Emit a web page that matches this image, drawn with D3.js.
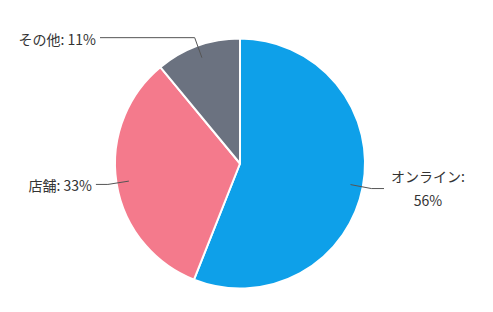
<!DOCTYPE html>
<html>
<head>
<meta charset="utf-8">
<script src="https://cdn.jsdelivr.net/npm/d3@7"></script>
<style>
  body { margin: 0; background: #fff; }
  text { font-family: "Noto Sans CJK JP", "Noto Sans", sans-serif; }
</style>
</head>
<body>
<script>
// 販売チャネル別の割合
var channels = ["オンライン", "店舗", "その他"];
var shares = [56, 33, 11];
var colors = ["#0ea0e9", "#f47a8c", "#6b7280"];

var w = 493, h = 312;
var cx = 240, cy = 163.5, r = 125;

var svg = d3.select("body").append("svg")
    .attr("width", w)
    .attr("height", h);

var data = channels.map(function (c, i) {
    return { name: c, value: shares[i], color: colors[i] };
});

var pie = d3.pie().sort(null).value(function (d) { return d.value; });
var arc = d3.arc().innerRadius(0).outerRadius(r);
var inner = d3.arc().innerRadius(r * 0.9).outerRadius(r * 0.9);
var outer = d3.arc().innerRadius(r * 1.07).outerRadius(r * 1.07);

var arcs = pie(data);

var g = svg.append("g").attr("transform", "translate(" + cx + "," + cy + ")");

g.selectAll("path.slice")
    .data(arcs)
    .enter()
    .append("path")
    .attr("class", "slice")
    .attr("d", arc)
    .attr("fill", function (d) { return d.data.color; })
    .attr("stroke", "#fff")
    .attr("stroke-width", 2)
    .attr("stroke-linejoin", "round");

function side(d) {
    var mid = (d.startAngle + d.endAngle) / 2;
    return mid < Math.PI ? 1 : -1;
}
function lineEnd(d) {
    var p = outer.centroid(d);
    var s = side(d);
    var ex = s > 0 ? Math.max(p[0] + 12, 144) : Math.min(p[0] - 12, -140);
    return [ex, p[1]];
}

g.selectAll("polyline")
    .data(arcs)
    .enter()
    .append("polyline")
    .attr("points", function (d) {
        return [inner.centroid(d), outer.centroid(d), lineEnd(d)].join(" ");
    })
    .attr("fill", "none")
    .attr("stroke", "#555")
    .attr("stroke-width", 1);

var labels = g.selectAll("text.lbl")
    .data(arcs)
    .enter()
    .append("text")
    .attr("class", "lbl")
    .attr("font-size", 14)
    .attr("fill", "#333")
    .attr("dominant-baseline", "central");

labels.each(function (d) {
    var t = d3.select(this);
    var e = lineEnd(d);
    var s = side(d);
    if (s > 0) {
        // right side label wraps into two centred lines
        var x = e[0] + 44;
        t.attr("text-anchor", "middle");
        t.append("tspan").attr("x", x).attr("y", e[1] - 13).text(d.data.name + ":");
        t.append("tspan").attr("x", x).attr("y", e[1] + 11).text(d.data.value + "%");
    } else {
        t.attr("text-anchor", "end")
            .attr("x", e[0] - 4)
            .attr("y", e[1] + 1)
            .text(d.data.name + ": " + d.data.value + "%");
    }
});
</script>
</body>
</html>
